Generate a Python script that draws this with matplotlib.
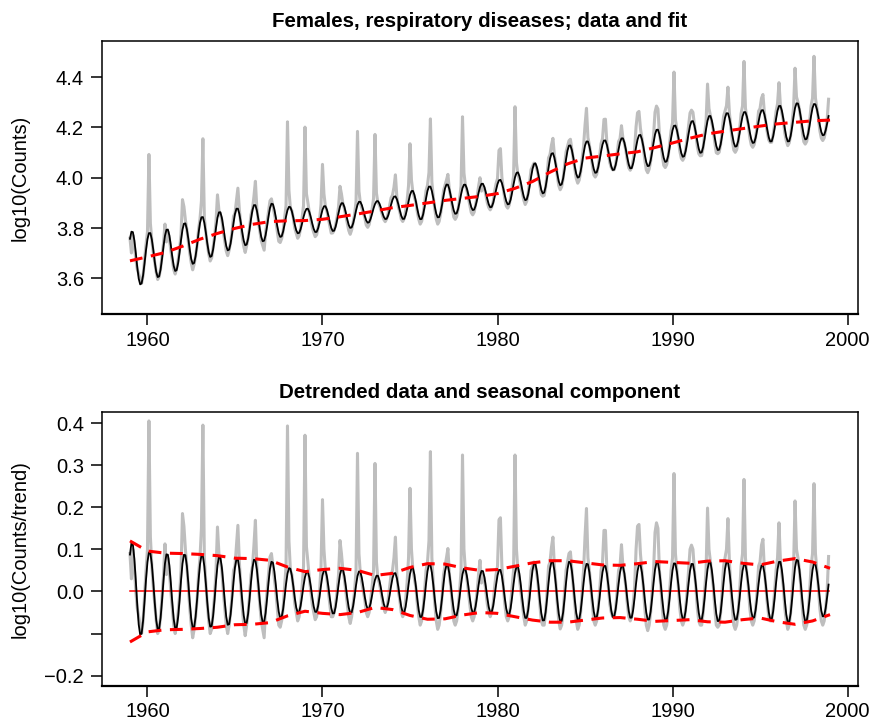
import numpy as np
import matplotlib.pyplot as plt

plt.rcParams['font.family'] = ['Liberation Sans', 'DejaVu Sans']

# Anos (valores de la tendencia y de la amplitud al 1 de enero)
years = list(range(1959, 2000))

# Tendencia log10(Counts) (linea roja discontinua, panel superior)
trend = [3.670, 3.686, 3.703, 3.728, 3.756, 3.779, 3.799, 3.815, 3.826, 3.829,
         3.830, 3.835, 3.845, 3.856, 3.868, 3.881, 3.890, 3.900, 3.910, 3.918,
         3.926, 3.937, 3.958, 3.985, 4.022, 4.055, 4.078, 4.086, 4.095, 4.103,
         4.120, 4.138, 4.157, 4.174, 4.185, 4.195, 4.205, 4.214, 4.220, 4.226,
         4.229]

# Amplitud de la componente estacional (envolvente roja, panel inferior)
amplitude = [0.120, 0.096, 0.091, 0.090, 0.088, 0.085, 0.079, 0.078, 0.074, 0.058,
             0.047, 0.052, 0.055, 0.050, 0.038, 0.043, 0.057, 0.066, 0.065, 0.056,
             0.050, 0.052, 0.060, 0.068, 0.073, 0.073, 0.068, 0.063, 0.062, 0.066,
             0.071, 0.069, 0.067, 0.072, 0.073, 0.067, 0.063, 0.072, 0.078, 0.070,
             0.055]

season_profile = [0.73, 0.97, 0.96, 0.68, 0.23, -0.29, -0.73, -0.97, -0.96, -0.68, -0.23, 0.29]

# Datos sin tendencia, mensuales (ene..dic), un renglon por ano 1959-1998
detrended_rows = [
    [0.09, 0.03, 0.10, 0.06, 0.00, -0.04, -0.06, -0.08, -0.10, -0.07, -0.01, 0.05],    # 1959
    [0.10, 0.405, 0.13, 0.06, 0.01, -0.03, -0.07, -0.10, -0.09, -0.06, -0.01, 0.04],   # 1960
    [0.113, 0.04, 0.08, 0.05, 0.00, -0.04, -0.08, -0.10, -0.08, -0.05, -0.01, 0.05],   # 1961
    [0.185, 0.155, 0.10, 0.06, 0.01, -0.04, -0.08, -0.11, -0.09, -0.06, -0.02, 0.04],  # 1962
    [0.08, 0.15, 0.395, 0.08, 0.02, -0.03, -0.07, -0.10, -0.09, -0.05, -0.01, 0.05],   # 1963
    [0.153, 0.09, 0.07, 0.05, 0.00, -0.04, -0.08, -0.10, -0.08, -0.05, -0.01, 0.05],   # 1964
    [0.06, 0.11, 0.157, 0.07, 0.01, -0.04, -0.08, -0.105, -0.08, -0.05, -0.01, 0.04],  # 1965
    [0.06, 0.11, 0.169, 0.06, 0.01, -0.03, -0.07, -0.09, -0.11, -0.04, 0.00, 0.04],    # 1966
    [0.082, 0.09, 0.06, 0.03, 0.00, -0.04, -0.08, -0.085, -0.07, -0.04, 0.01, 0.06],   # 1967
    [0.393, 0.12, 0.05, 0.04, 0.01, -0.03, -0.05, -0.07, -0.06, -0.03, 0.01, 0.06],    # 1968
    [0.371, 0.106, 0.07, 0.03, 0.00, -0.03, -0.05, -0.067, -0.06, -0.03, 0.00, 0.06],  # 1969
    [0.218, 0.10, 0.05, 0.03, 0.00, -0.03, -0.06, -0.06, -0.05, -0.03, 0.00, 0.04],    # 1970
    [0.121, 0.09, 0.05, 0.03, 0.00, -0.03, -0.06, -0.076, -0.06, -0.03, 0.00, 0.05],   # 1971
    [0.328, 0.09, 0.04, 0.02, 0.00, -0.02, -0.05, -0.06, -0.05, -0.02, 0.01, 0.05],    # 1972
    [0.304, 0.07, 0.03, 0.02, 0.00, -0.02, -0.04, -0.05, -0.04, -0.02, 0.01, 0.04],    # 1973
    [0.05, 0.08, 0.129, 0.04, 0.00, -0.02, -0.05, -0.06, -0.05, -0.02, 0.02, 0.08],    # 1974
    [0.245, 0.10, 0.05, 0.03, 0.01, -0.03, -0.06, -0.08, -0.07, -0.04, 0.00, 0.05],    # 1975
    [0.07, 0.12, 0.332, 0.08, 0.02, -0.03, -0.07, -0.09, -0.08, -0.05, -0.01, 0.04],   # 1976
    [0.06, 0.08, 0.102, 0.04, 0.01, -0.03, -0.07, -0.08, -0.07, -0.04, 0.00, 0.05],    # 1977
    [0.324, 0.10, 0.05, 0.03, 0.00, -0.03, -0.06, -0.07, -0.06, -0.03, 0.00, 0.04],    # 1978
    [0.074, 0.02, 0.04, 0.03, 0.00, -0.03, -0.05, -0.06, -0.05, -0.03, 0.01, 0.04],    # 1979
    [0.06, 0.17, 0.175, 0.06, 0.01, -0.03, -0.06, -0.07, -0.06, -0.03, 0.01, 0.05],    # 1980
    [0.324, 0.10, 0.05, 0.03, 0.00, -0.03, -0.06, -0.08, -0.07, -0.04, 0.00, 0.05],    # 1981
    [0.06, 0.07, 0.06, 0.04, 0.01, -0.03, -0.07, -0.08, -0.08, -0.05, 0.00, 0.06],     # 1982
    [0.07, 0.105, 0.129, 0.06, 0.02, -0.03, -0.07, -0.089, -0.08, -0.05, 0.00, 0.05],  # 1983
    [0.07, 0.09, 0.094, 0.05, 0.01, -0.03, -0.07, -0.09, -0.08, -0.05, 0.00, 0.05],    # 1984
    [0.13, 0.197, 0.08, 0.05, 0.01, -0.03, -0.07, -0.08, -0.07, -0.04, 0.00, 0.05],    # 1985
    [0.07, 0.145, 0.145, 0.05, 0.01, -0.03, -0.05, -0.06, -0.06, -0.04, 0.00, 0.05],   # 1986
    [0.06, 0.111, 0.06, 0.04, 0.01, -0.03, -0.06, -0.07, -0.06, -0.03, 0.01, 0.10],    # 1987
    [0.155, 0.159, 0.09, 0.05, 0.01, -0.04, -0.08, -0.093, -0.08, -0.05, 0.00, 0.05],  # 1988
    [0.14, 0.163, 0.15, 0.05, 0.01, -0.04, -0.08, -0.09, -0.08, -0.05, 0.00, 0.05],    # 1989
    [0.08, 0.28, 0.09, 0.05, 0.01, -0.04, -0.07, -0.08, -0.07, -0.04, 0.00, 0.05],     # 1990
    [0.10, 0.11, 0.10, 0.05, 0.01, -0.04, -0.07, -0.08, -0.08, -0.05, 0.00, 0.05],     # 1991
    [0.198, 0.10, 0.07, 0.04, 0.01, -0.04, -0.08, -0.085, -0.08, -0.05, 0.00, 0.06],   # 1992
    [0.08, 0.10, 0.173, 0.07, 0.01, -0.04, -0.08, -0.09, -0.08, -0.05, 0.00, 0.06],    # 1993
    [0.09, 0.266, 0.08, 0.04, 0.01, -0.04, -0.07, -0.08, -0.07, -0.04, 0.00, 0.06],    # 1994
    [0.07, 0.11, 0.124, 0.05, 0.01, -0.03, -0.06, -0.07, -0.07, -0.04, 0.00, 0.05],    # 1995
    [0.08, 0.163, 0.07, 0.04, 0.01, -0.04, -0.07, -0.09, -0.08, -0.05, 0.00, 0.06],    # 1996
    [0.215, 0.10, 0.08, 0.05, 0.01, -0.04, -0.08, -0.09, -0.08, -0.05, 0.00, 0.06],    # 1997
    [0.09, 0.256, 0.09, 0.05, 0.01, -0.04, -0.07, -0.08, -0.07, -0.04, 0.00, 0.083],   # 1998
]

top_yticks = [3.6, 3.8, 4.0, 4.2, 4.4]
bottom_yticks = [-0.2, -0.1, 0.0, 0.1, 0.2, 0.3, 0.4]
bottom_ylabels = ["\u22120.2", "", "0.0", "0.1", "0.2", "0.3", "0.4"]
xticks = [1960, 1970, 1980, 1990, 2000]

# ---- series mensuales ----
years = np.array(years, dtype=float)
trend = np.array(trend)
amplitude = np.array(amplitude)
detrended = np.array(detrended_rows).ravel()
t = years[0] + np.arange(len(detrended)) / 12.0
trend_m = np.interp(t, years, trend)
amp_m = np.interp(t, years, amplitude)
seasonal = amp_m * np.tile(season_profile, len(detrended_rows))

data_log = trend_m + detrended
fit_log = trend_m + seasonal

gray = "#BEBEBE"
xlim = (1957.4, 2000.6)
dash = (4.2, 2.8)

fig = plt.figure(figsize=(8.76, 7.28), dpi=100)
ax1 = fig.add_axes([0.1164, 0.5687, 0.8631, 0.3750])
ax2 = fig.add_axes([0.1164, 0.0581, 0.8631, 0.3756])

# panel superior
ax1.plot(t, data_log, color=gray, lw=2.2)
ax1.plot(t, fit_log, color="black", lw=1.3)
ax1.plot(years, trend, color="red", lw=2.2, dashes=dash)
ax1.set_ylim(3.459, 4.543)
ax1.set_yticks(top_yticks)
ax1.set_ylabel("log10(Counts)", fontsize=14.5)
ax1.set_title("Females, respiratory diseases; data and fit", fontsize=14.8,
              fontweight="bold", pad=10)

# panel inferior
ax2.plot(t, detrended, color=gray, lw=2.2)
ax2.plot([t[0], t[-1]], [0, 0], color="red", lw=1.1)
ax2.plot(t, seasonal, color="black", lw=1.3)
ax2.plot(years, amplitude, color="red", lw=2.2, dashes=dash)
ax2.plot(years, -amplitude, color="red", lw=2.2, dashes=dash)
ax2.set_ylim(-0.2238, 0.4255)
ax2.set_yticks(bottom_yticks)
ax2.set_yticklabels(bottom_ylabels)
ax2.set_ylabel("log10(Counts/trend)", fontsize=14.5)
ax2.set_title("Detrended data and seasonal component", fontsize=14.8,
              fontweight="bold", pad=10)

for ax in (ax1, ax2):
    ax.set_xlim(*xlim)
    ax.set_xticks(xticks)
    ax.tick_params(direction="out", length=8, width=1.1, labelsize=14.5, pad=4)
    ax.tick_params(axis="y", pad=5)
    ax.yaxis.set_label_coords(-0.096, 0.5)
    for s in ax.spines.values():
        s.set_linewidth(1.1)
    ax.spines["bottom"].set_linewidth(1.6)

fig.savefig("out.png", dpi=100)
